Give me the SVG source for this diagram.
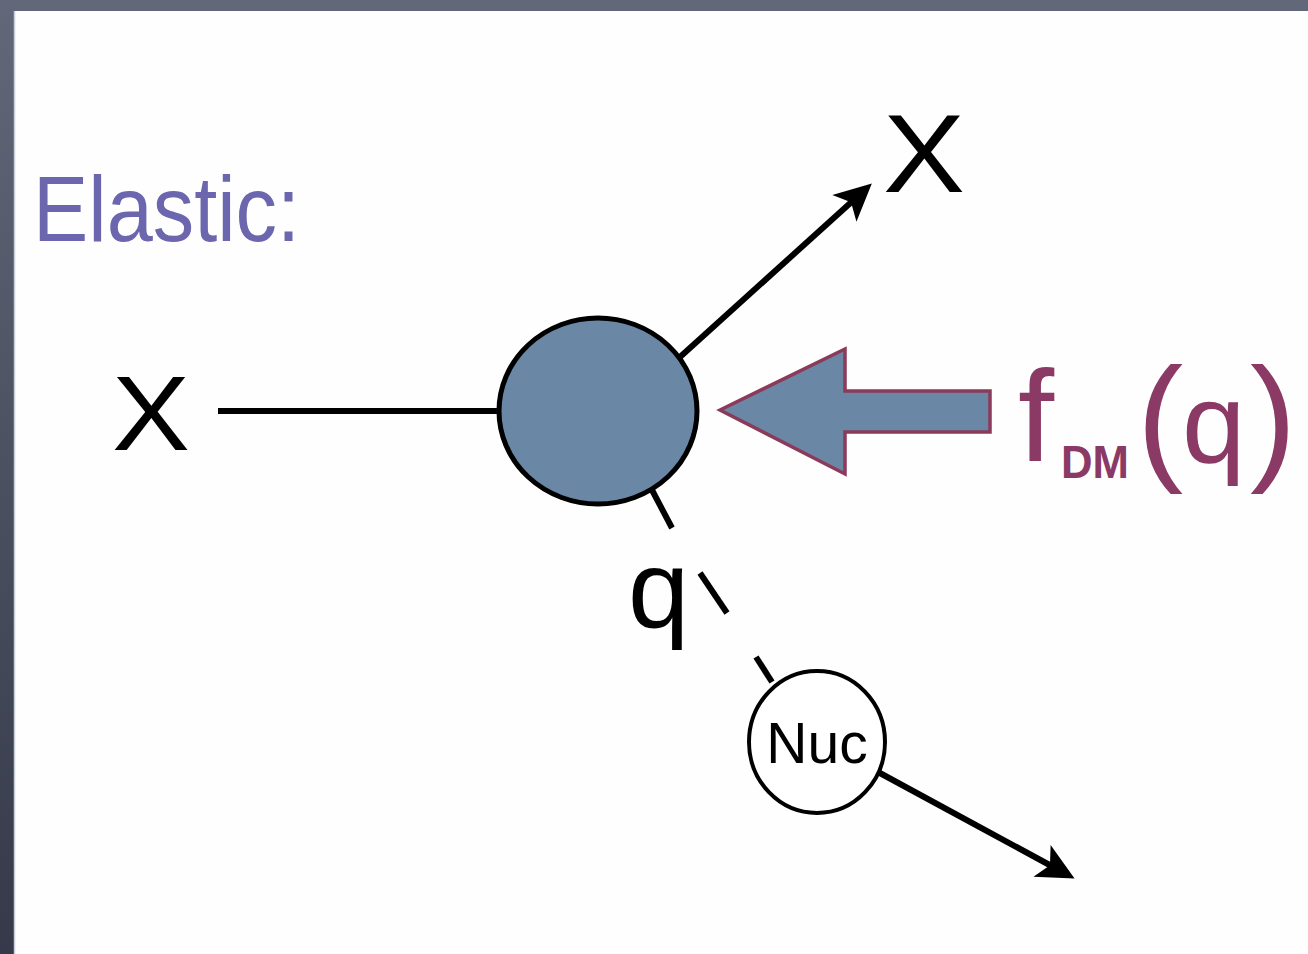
<svg xmlns="http://www.w3.org/2000/svg" width="1308" height="954" viewBox="0 0 1308 954">
<defs>
<linearGradient id="bg" x1="0" y1="0" x2="0" y2="1">
<stop offset="0" stop-color="#626879"/>
<stop offset="1" stop-color="#353949"/>
</linearGradient>
<marker id="ah" viewBox="0 -18 37 36" refX="17" refY="0" markerWidth="37" markerHeight="36" markerUnits="userSpaceOnUse" orient="auto" overflow="visible">
<path d="M0,-18 L37,0 L0,18 L9,0 Z" fill="#000"/>
</marker>
<style>
.ln{stroke:#000;stroke-width:6;fill:none}
.lbl{font-family:"Liberation Sans",Arial,sans-serif;fill:#000}
.pl{font-family:"Liberation Sans",Arial,sans-serif;fill:#8b3a66}
</style>
</defs>
<rect x="0" y="0" width="1308" height="954" fill="url(#bg)"/>
<rect x="14" y="11" width="1300" height="950" fill="#fefefe"/>
<line x1="14.5" y1="11" x2="14.5" y2="954" stroke="#c9cdd6" stroke-width="1.5"/>

<text x="33" y="241" font-family="Liberation Sans, Arial, sans-serif" font-size="92" fill="#6b66ae" textLength="267" lengthAdjust="spacingAndGlyphs">Elastic:</text>

<g id="connectors">
<line class="ln" x1="218" y1="411" x2="500" y2="411"/>
<line class="ln" x1="680" y1="357" x2="857" y2="197" marker-end="url(#ah)"/>
<line class="ln" x1="652" y1="490" x2="672" y2="528"/>
<line class="ln" x1="700" y1="573" x2="727" y2="613"/>
<line class="ln" x1="756" y1="657" x2="772" y2="682"/>
<line class="ln" x1="878" y1="772" x2="1057" y2="869" marker-end="url(#ah)"/>
</g>

<g id="x-in"><text class="lbl" x="112" y="450" font-size="105" textLength="78" lengthAdjust="spacingAndGlyphs">X</text></g>
<g id="x-out"><text class="lbl" x="883" y="192" font-size="112" textLength="82" lengthAdjust="spacingAndGlyphs">X</text></g>

<g id="vertex"><ellipse cx="598" cy="411" rx="99" ry="93" fill="#6a88a6" stroke="#000" stroke-width="5"/></g>

<g id="ff-arrow"><polygon points="720,410 845,349 845,391 990,391 990,432 845,432 845,474" fill="#6a88a6" stroke="#8b3a5a" stroke-width="3.5" stroke-linejoin="miter"/></g>

<g id="ff-label">
<text class="pl" x="1018" y="461" font-size="130">f</text>
<text class="pl" x="1061" y="478" font-size="46" font-weight="bold" textLength="68" lengthAdjust="spacingAndGlyphs">DM</text>
<text class="pl" x="1137" y="465" font-size="139">(</text>
<text class="pl" x="1182" y="462" font-size="114">q</text>
<text class="pl" x="1250" y="465" font-size="139">)</text>
</g>

<g id="q-label"><text class="lbl" x="628" y="627" font-size="110">q</text></g>

<g id="nuc">
<ellipse cx="817" cy="742" rx="68" ry="71" fill="#fff" stroke="#000" stroke-width="4"/>
<text class="lbl" x="817" y="763" font-size="57" text-anchor="middle">Nuc</text>
</g>
</svg>
